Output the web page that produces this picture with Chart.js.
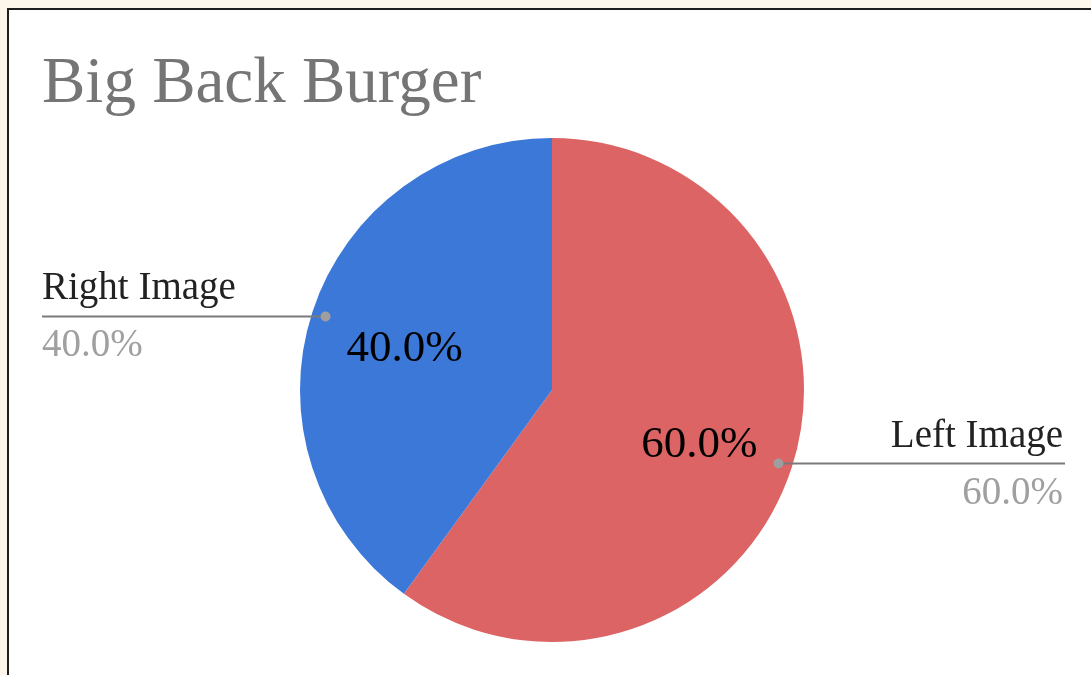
<!DOCTYPE html>
<html>
<head>
<meta charset="utf-8">
<script src="https://cdn.jsdelivr.net/npm/chart.js@4/dist/chart.umd.min.js"></script>
<style>
  html, body { margin: 0; padding: 0; background: #fdf6ea; overflow: hidden; }
  #frame {
    position: absolute; left: 7px; top: 8px; right: 0; bottom: 0;
    background: #fff; border-top: 2px solid #1e1e1e; border-left: 2px solid #1e1e1e;
  }
  #wrap { position: absolute; left: 0; top: 0; width: 1091px; height: 675px; }
</style>
</head>
<body>
<div id="frame"></div>
<div id="wrap"><canvas id="pie"></canvas></div>
<script>
// Data
const chartTitle = 'Big Back Burger';
const categories = ['Left Image', 'Right Image'];
const values = [60, 40];
const colors = ['#dc6464', '#3c78d8'];

const SERIF = "'Liberation Serif', 'Times New Roman', serif";

const total = values.reduce((a, b) => a + b, 0);
const pct = v => (v / total * 100).toFixed(1) + '%';

// Title, slice labels and leader lines
const labelPlugin = {
  id: 'pieLabels',
  afterDatasetsDraw(chart) {
    const ctx = chart.ctx;
    ctx.save();

    // title
    ctx.font = `65px ${SERIF}`;
    ctx.fillStyle = '#757575';
    ctx.textAlign = 'left';
    ctx.textBaseline = 'alphabetic';
    ctx.fillText(chartTitle, 42, 102);

    const arcs = chart.getDatasetMeta(0).data;
    arcs.forEach((arc, i) => {
      const p = arc.getProps(['x', 'y', 'startAngle', 'endAngle', 'outerRadius'], true);
      const mid = (p.startAngle + p.endAngle) / 2;
      const cos = Math.cos(mid), sin = Math.sin(mid);

      // inner value
      ctx.font = `45px ${SERIF}`;
      ctx.fillStyle = '#000';
      ctx.textAlign = 'center';
      ctx.textBaseline = 'middle';
      ctx.fillText(pct(values[i]), p.x + cos * p.outerRadius * 0.615, p.y + sin * p.outerRadius * 0.615 + 7);

      // leader line
      const dx = p.x + cos * p.outerRadius * 0.945;
      const dy = p.y + sin * p.outerRadius * 0.945;
      const left = cos < 0;
      const endX = left ? 42 : 1065;
      ctx.strokeStyle = '#7a7a7a';
      ctx.lineWidth = 2;
      ctx.beginPath();
      ctx.moveTo(dx, dy);
      ctx.lineTo(endX, dy);
      ctx.stroke();
      ctx.fillStyle = '#9e9e9e';
      ctx.beginPath();
      ctx.arc(dx, dy, 5, 0, Math.PI * 2);
      ctx.fill();

      // outside labels
      ctx.textAlign = left ? 'left' : 'right';
      ctx.textBaseline = 'alphabetic';
      const tx = left ? 42 : 1063;
      ctx.font = `39px ${SERIF}`;
      ctx.fillStyle = '#222';
      ctx.fillText(categories[i], tx, dy - 17);
      ctx.fillStyle = '#a0a0a0';
      ctx.fillText(pct(values[i]), tx, dy + 40);
    });

    ctx.restore();
  }
};

const config = {
  type: 'pie',
  data: {
    labels: categories,
    datasets: [{
      data: values,
      backgroundColor: colors,
      borderWidth: 0,
      hoverOffset: 0
    }]
  },
  options: {
    responsive: true,
    maintainAspectRatio: false,
    animation: false,
    layout: {
      padding: { top: 138, bottom: 33, left: 300, right: 287 }
    },
    plugins: {
      legend: { display: false },
      title: { display: false },
      tooltip: { enabled: false }
    }
  },
  plugins: [labelPlugin]
};

new Chart(document.getElementById('pie').getContext('2d'), config);
</script>
</body>
</html>
